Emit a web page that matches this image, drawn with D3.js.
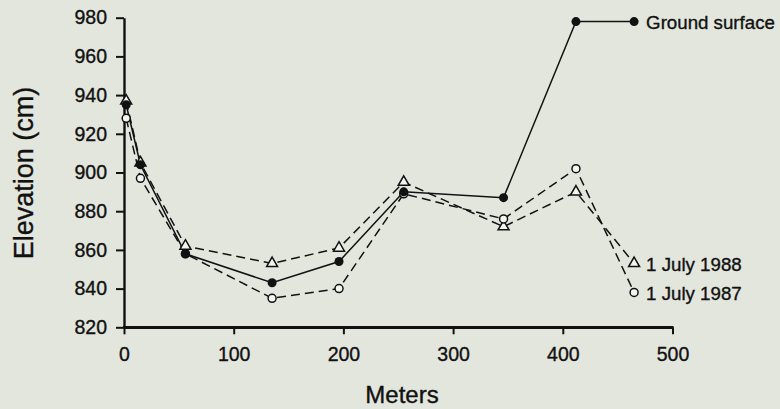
<!DOCTYPE html>
<html><head><meta charset="utf-8">
<script src="https://cdn.jsdelivr.net/npm/d3@7"></script>
<style>html,body{margin:0;padding:0;background:#e3e6dd;}svg{display:block;}</style>
</head><body>
<script>
const meters = [2, 15, 56, 135, 196, 255, 346, 412, 465];
const groundSurface = [935, 904, 858, 843, 854, 890, 887, 978, 978];
const july1988 = [937, 905, 862, 853, 861, 895, 872, 890, 853];
const july1987 = [928, 897, 858, 835, 840, 889, 876, 902, 838];
const xTicks = [0, 100, 200, 300, 400, 500];
const yTicks = [820, 840, 860, 880, 900, 920, 940, 960, 980];
const seriesLabels = ["Ground surface", "1 July 1988", "1 July 1987"];

const W = 780, H = 409;
const svg = d3.select("body").append("svg").attr("width", W).attr("height", H);
svg.append("rect").attr("width", W).attr("height", H).attr("fill", "#e3e6dd");

const x = d3.scaleLinear().domain([0, 500]).range([124, 672.5]);
const y = d3.scaleLinear().domain([820, 980]).range([327.3, 17.7]);
const font = "'Liberation Sans', Arial, Helvetica, sans-serif";
const ink = "#111";

function textStyle(sel, size) {
  sel.attr("fill", ink).attr("font-family", font).attr("font-size", size)
     .attr("stroke", ink).attr("stroke-width", 0.35);
}

// axes
const xAxis = svg.append("g").attr("transform", `translate(0,${y(820)})`)
  .call(d3.axisBottom(x).tickValues(xTicks).tickSize(7).tickSizeOuter(0).tickPadding(13));
const yAxis = svg.append("g").attr("transform", `translate(${x(0)},0)`)
  .call(d3.axisLeft(y).tickValues(yTicks).tickSize(8).tickSizeOuter(0).tickPadding(9));
[xAxis, yAxis].forEach(g => {
  g.select(".domain").attr("stroke", ink).attr("stroke-width", 2.4);
  g.selectAll(".tick line").attr("stroke", ink).attr("stroke-width", 2);
  textStyle(g.selectAll(".tick text"), 19.5);
});
svg.append("line").attr("x1", x(0) - 1).attr("x2", x(500) + 1)
  .attr("y1", y(820)).attr("y2", y(820)).attr("stroke", ink).attr("stroke-width", 2.4);

textStyle(svg.append("text").attr("x", 402).attr("y", 403).attr("text-anchor", "middle")
  .text("Meters"), 24);
textStyle(svg.append("text").attr("transform", `translate(33,173) rotate(-90)`)
  .attr("text-anchor", "middle").text("Elevation (cm)"), 27);

const line = d3.line().x(d => x(d[0])).y(d => y(d[1]));
function pts(vals) { return meters.map((m, i) => [m, vals[i]]); }

// lines
svg.append("path").datum(pts(july1988)).attr("d", line).attr("fill", "none")
  .attr("stroke", ink).attr("stroke-width", 1.5).attr("stroke-dasharray", "9,5");
svg.append("path").datum(pts(july1987)).attr("d", line).attr("fill", "none")
  .attr("stroke", ink).attr("stroke-width", 1.5).attr("stroke-dasharray", "9,5");
svg.append("path").datum(pts(groundSurface)).attr("d", line).attr("fill", "none")
  .attr("stroke", ink).attr("stroke-width", 1.5);

// markers
const tri = d3.symbol().type(d3.symbolTriangle).size(52);
svg.append("g").selectAll("path").data(pts(july1988)).join("path")
  .attr("d", tri).attr("transform", d => `translate(${x(d[0])},${y(d[1])})`)
  .attr("fill", "#f4f5f0").attr("stroke", ink).attr("stroke-width", 1.5);
svg.append("g").selectAll("circle").data(pts(july1987)).join("circle")
  .attr("cx", d => x(d[0])).attr("cy", d => y(d[1])).attr("r", 4)
  .attr("fill", "#f4f5f0").attr("stroke", ink).attr("stroke-width", 1.5);
svg.append("g").selectAll("circle").data(pts(groundSurface)).join("circle")
  .attr("cx", d => x(d[0])).attr("cy", d => y(d[1])).attr("r", 4.5)
  .attr("fill", ink);

// series labels at line ends
const last = meters.length - 1;
const ends = [groundSurface[last], july1988[last], july1987[last]];
textStyle(svg.append("g").selectAll("text").data(seriesLabels).join("text")
  .attr("x", x(meters[last]) + 12)
  .attr("y", (d, i) => y(ends[i]) + 1)
  .attr("dy", "0.35em")
  .text(d => d), 18.7);
</script>
</body></html>
